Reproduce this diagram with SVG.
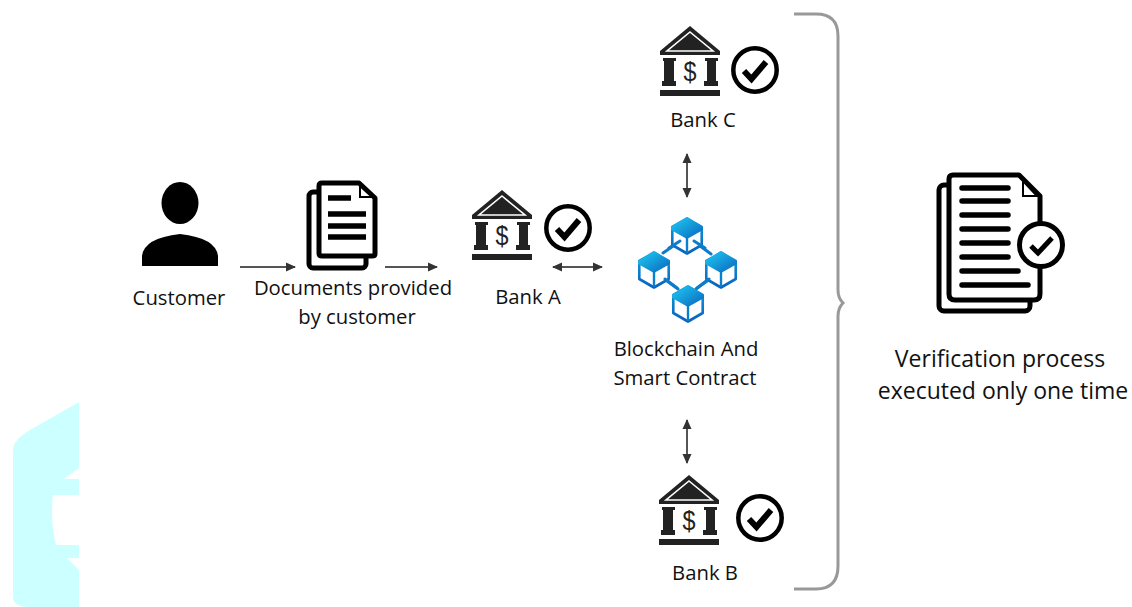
<svg xmlns="http://www.w3.org/2000/svg" width="1132" height="607" viewBox="0 0 1132 607">
<style>
text{font-family:"Open Sans","Noto Sans","Liberation Sans",sans-serif;fill:#111;text-anchor:middle}
.l{font-size:20.3px}
.x{font-size:23px}
.c{fill:none;stroke:#555;stroke-width:2}
.sheet{fill:#fff;stroke:#000;stroke-linejoin:round}
.bl{stroke:#000;stroke-linecap:round}
.link{stroke:#0f7ccb;stroke-width:3;stroke-linecap:round}
.ok{fill:#fff;stroke:#000;stroke-width:4.5}
.tick{fill:none;stroke:#000;stroke-width:6}
</style>
<defs>
<filter id="soft" x="-5%" y="-5%" width="110%" height="110%" filterUnits="objectBoundingBox"><feGaussianBlur stdDeviation="0.5"/></filter>
<marker id="ah" markerUnits="userSpaceOnUse" markerWidth="12" markerHeight="12" refX="9" refY="6" orient="auto-start-reverse"><path d="M0,1.5 L10,6 L0,10.5Z" fill="#333"/></marker>
<linearGradient id="g" x1="0" y1="0" x2="1" y2="1"><stop offset="0" stop-color="#1fd0f5"/><stop offset="1" stop-color="#0a62bd"/></linearGradient>
<linearGradient id="g2" x1="0" y1="0" x2="0" y2="1"><stop offset="0" stop-color="#0c9fe0"/><stop offset="1" stop-color="#0a62bd"/></linearGradient>
<symbol id="bank" viewBox="0 0 60 70" width="60" height="70" overflow="visible">
<path d="M30,0 L60,25 V29 H0 V25Z" fill="#222"/>
<path d="M30,6 L53,25 H7Z" fill="#222" stroke="#fff" stroke-width="1.6"/>
<path d="M3,32H16V35H14V55H16V60H2V55H4V35H3Z M45,32H58V35H56V55H58V60H44V55H47V35H45Z" fill="#222"/>
<rect x="0" y="64" width="60" height="6" fill="#222"/>
<text x="30" y="55" style="font-size:27px;font-family:'Liberation Sans',sans-serif;fill:#222" textLength="13" lengthAdjust="spacingAndGlyphs">$</text>
</symbol>
<symbol id="cube" viewBox="0 0 32 38" width="32" height="38" overflow="visible">
<path d="M16,1.5 L30.7,10 V28 L16,36.5 L1.3,28 V10Z" fill="#fff" stroke="url(#g2)" stroke-width="2.6" stroke-linejoin="round"/>
<path d="M16,0 L32,10 V13 L16,22 L0,13 V10Z" fill="url(#g)"/>
<path d="M16,20 V36" stroke="#0a7fd0" stroke-width="2.4"/>
</symbol>
<symbol id="check" viewBox="-24 -24 48 48" width="48" height="48" overflow="visible">
<circle r="21.7" class="ok"/>
<path d="M-11,1 L-3.5,9 L11,-8" class="tick"/>
</symbol>
</defs>
<rect width="1132" height="607" fill="#fff"/>
<path id="backdrop" fill-rule="evenodd" d="M79,402 L30,430 Q13,440 13,450 V597 Q13,607 30,607 H79 V570 L67,558 H79 V545 H56 Q50,520 53,495 H79 V479 H64 L79,468Z" fill="#ccffff"/>
<g id="connectors">
<path class="c" d="M240,267 H295" marker-end="url(#ah)"/>
<path class="c" d="M385,267 H437" marker-end="url(#ah)"/>
<path class="c" d="M553,267 H602" marker-start="url(#ah)" marker-end="url(#ah)"/>
<path class="c" d="M687,154 V197" marker-start="url(#ah)" marker-end="url(#ah)"/>
<path class="c" d="M687,420 V463" marker-start="url(#ah)" marker-end="url(#ah)"/>
<path id="brace" d="M794,14 H816 Q838,14 838,36 V290 Q838,298 843,303 Q838,308 838,316 V566 Q838,589 816,589 H794" fill="none" stroke="#999" stroke-width="3" filter="url(#soft)"/>
</g>
<g id="customer">
<ellipse cx="180" cy="203" rx="18.5" ry="21"/>
<path d="M142,266 V256 Q144,238 180,234 Q216,238 218,256 V266Z"/>
<text class="l" x="179" y="305">Customer</text>
</g>
<g id="documents">
<rect class="sheet" x="309" y="192" width="57" height="76" rx="4" stroke-width="5"/>
<path class="sheet" stroke-width="5" d="M322,183 H359 L375,198 V254 Q375,256 372,256 H322 Q319,256 319,253 V186 Q319,183 322,183Z"/>
<path d="M360,186 L372,197 H360Z" fill="#fff" stroke="#000" stroke-width="2"/>
<path d="M328,198H351M328,214H366M328,226H366M328,237H366" stroke="#000" stroke-width="5.5"/>
<text class="l" x="353" y="295">Documents provided</text>
<text class="l" x="357" y="324">by customer</text>
</g>
<g id="bank-a">
<use href="#bank" x="472" y="190"/>
<use href="#check" x="544" y="204"/>
<text class="l" x="528" y="304">Bank A</text>
</g>
<g id="blockchain">
<path class="link" d="M663,253 L682,240M692,240 L711,254M659,275 L678,289M696,289 L715,275"/>
<use href="#cube" x="671" y="217"/>
<use href="#cube" x="638" y="251"/>
<use href="#cube" x="705" y="251"/>
<use href="#cube" x="672" y="285"/>
<path class="link" d="M669,248 L680,241M694,241 L705,248M665,279 L677,288M697,288 L709,279"/>
<text class="l" x="686" y="356">Blockchain And</text>
<text class="l" x="685" y="385">Smart Contract</text>
</g>
<g id="bank-c">
<use href="#bank" x="660" y="26"/>
<use href="#check" x="731" y="46"/>
<text class="l" x="703" y="127">Bank C</text>
</g>
<g id="bank-b">
<use href="#bank" x="659" y="475"/>
<use href="#check" x="736" y="494"/>
<text class="l" x="705" y="580">Bank B</text>
</g>
<g id="verification">
<rect class="sheet" x="939" y="185" width="91" height="126" rx="5" stroke-width="5"/>
<path class="sheet" stroke-width="5" d="M953,175 H1019 L1040,196 V294 Q1040,300 1034,300 H955 Q949,300 949,294 V179 Q949,175 953,175Z"/>
<path d="M1023,181 L1037,196 H1023Z" fill="#fff" stroke="#000" stroke-width="2"/>
<path class="bl" stroke-width="5.5" d="M962,188H1008M962,201H1008M962,215H1008M962,229H1008M962,243H1008M962,257H1008M962,271H1018M962,285H1028"/>
<circle cx="1041" cy="245" r="21.5" fill="#fff" stroke="#000" stroke-width="5"/>
<path d="M1031,246 L1038,253 L1052,238" fill="none" stroke="#000" stroke-width="5"/>
<text class="x" x="1000" y="367">Verification process</text>
<text class="x" x="1003" y="399">executed only one time</text>
</g>
</svg>
